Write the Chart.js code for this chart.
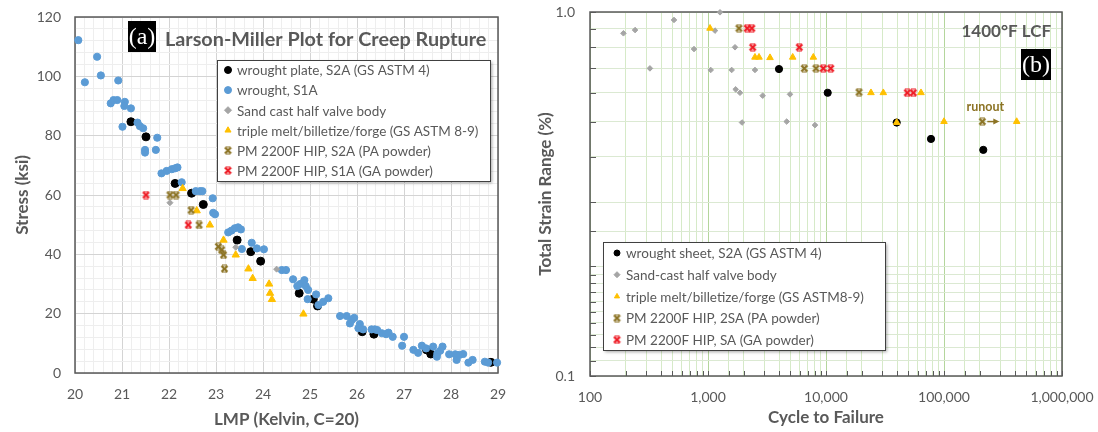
<!DOCTYPE html>
<html>
<head>
<meta charset="utf-8">
<script src="https://cdn.jsdelivr.net/npm/chart.js@4.4.1/dist/chart.umd.min.js"></script>
<style>
  body { margin: 0; background: #fff; width: 1098px; height: 432px; overflow: hidden; position: relative; }
  #wrapA { position: absolute; left: 0; top: 0; width: 520px; height: 432px; }
  #wrapB { position: absolute; left: 520px; top: 0; width: 578px; height: 432px; }
</style>
</head>
<body>
<div id="wrapA"><canvas id="creepChart"></canvas></div>
<div id="wrapB"><canvas id="lcfChart"></canvas></div>
<script>
// ---- (a) Larson-Miller data: LMP (Kelvin, C=20) vs stress (ksi)
const plateLMP    = [21.19, 21.51, 22.13, 22.48, 22.73, 23.45, 23.74, 23.95, 24.77, 25.07, 25.16, 26.11, 26.36, 27.48, 27.57, 28.85];
const plateStress = [84.7, 79.6, 63.9, 60.6, 56.8, 44.8, 40.9, 37.7, 26.9, 24.9, 22.6, 13.9, 13.1, 7.8, 6.4, 3.6];

const wroughtLMP = [20.07, 20.21, 20.47, 20.55, 20.92, 20.76, 20.82, 20.9, 21.06, 21.05, 21.19, 21.01, 21.33, 21.38, 21.45,
  21.75, 21.49, 21.49, 21.72, 21.84, 21.95, 22.06, 22.13, 22.18, 22.27, 22.57, 22.66, 22.71, 22.93, 22.94, 22.98,
  23.26, 23.33, 23.40, 23.47, 23.53, 23.55, 23.76, 23.87, 24.02, 24.40, 24.49, 24.64, 24.73, 24.79, 24.88, 24.91, 24.96,
  24.95, 25.13, 25.18, 25.28, 25.39, 25.64, 25.78, 25.89, 25.94, 25.85, 26.06, 26.03, 26.13, 26.31, 26.38, 26.43, 26.53,
  26.62, 26.67, 26.76, 27.0, 26.96, 27.2, 27.3, 27.38, 27.47, 27.62, 27.71, 27.77, 27.82, 27.70, 27.96, 28.09, 28.12,
  28.18, 28.26, 28.37, 28.46, 28.72, 28.79, 28.98];
const wroughtStress = [112.2, 98.0, 106.6, 100.3, 98.6, 90.9, 92.0, 92.0, 91.4, 90.0, 89.2, 83.0, 84.4, 83.2, 82.5,
  79.3, 75.2, 74.3, 75.2, 67.3, 68.1, 68.7, 69.0, 69.3, 64.3, 61.3, 61.3, 61.3, 58.9, 54.0, 53.5,
  47.4, 48.0, 48.8, 49.1, 48.4, 41.8, 43.9, 42.0, 41.7, 34.7, 34.7, 31.6, 29.3, 30.0, 31.3, 29.3, 28.0,
  24.9, 26.5, 22.9, 24.0, 25.2, 19.2, 19.2, 17.9, 18.6, 16.7, 16.5, 15.1, 14.7, 14.7, 14.7, 14.5, 13.4,
  13.1, 13.6, 12.2, 12.2, 9.2, 7.8, 6.8, 9.2, 8.3, 8.9, 6.6, 7.5, 8.9, 5.5, 6.3, 6.3, 4.4,
  6.1, 6.4, 3.5, 4.4, 3.8, 3.5, 3.5];

const sandLMP    = [22.02, 23.42, 24.29];
const sandStress = [57.4, 42.4, 35.0];

const tripleLMP    = [22.29, 22.59, 22.87, 23.16, 23.42, 23.69, 23.78, 24.13, 24.15, 24.19, 24.86];
const tripleStress = [62.2, 54.7, 49.9, 44.8, 39.8, 35.1, 31.9, 30.0, 26.9, 24.8, 19.9];

const paLMP    = [22.02, 22.15, 22.47, 22.64, 23.05, 23.12, 23.16, 23.18];
const paStress = [60, 60, 54.9, 49.9, 42.6, 41.5, 39.8, 35.1];

const gaLMP    = [21.51, 22.41];
const gaStress = [60, 49.9];

// ---- (b) 1400F LCF data: cycles to failure vs total strain range (%)
const sheetCycles = [3996, 10338, 39720, 77600, 215300];
const sheetStrain = [0.697, 0.600, 0.497, 0.448, 0.418];

const castCycles = [192, 241, 515, 322, 761, 1264, 1146, 1054, 1694, 1587, 2501, 1716, 1867, 2906, 4955, 1942, 4645, 8066];
const castStrain = [0.874, 0.892, 0.951, 0.700, 0.791, 0.998, 0.889, 0.693, 0.800, 0.693, 0.693, 0.613, 0.600, 0.589, 0.594, 0.497, 0.500, 0.489];

const forgeCycles = [1040, 2501, 2706, 3353, 5222, 7811, 24050, 30600, 63840, 39720, 100000, 413000];
const forgeStrain = [0.902, 0.751, 0.751, 0.749, 0.751, 0.751, 0.6, 0.6, 0.6, 0.497, 0.5, 0.5];

const pmPaCycles = [1830, 6549, 8227, 19040, 211200];
const pmPaStrain = [0.902, 0.700, 0.700, 0.602, 0.5];

const pmGaCycles = [2150, 2350, 2392, 5940, 9487, 10960, 48870, 54960];
const pmGaStrain = [0.902, 0.902, 0.800, 0.800, 0.700, 0.700, 0.6, 0.6];

const textGray = '#595959';
Chart.defaults.font.family = 'Lato, "Open Sans", sans-serif';
Chart.defaults.color = textGray;

function zip(xs, ys) {
  return xs.map((x, i) => ({ x: x, y: ys[i] }));
}

// Excel style "x" marker
function xMarker(color) {
  const c = document.createElement('canvas');
  c.width = 9; c.height = 9;
  const g = c.getContext('2d');
  g.strokeStyle = color;
  g.lineWidth = 2.3;
  g.beginPath();
  g.moveTo(1.5, 1.5); g.lineTo(7.5, 7.5);
  g.moveTo(7.5, 1.5); g.lineTo(1.5, 7.5);
  g.stroke();
  g.lineWidth = 1.2;
  g.beginPath();
  g.moveTo(2, 1); g.lineTo(7, 1);
  g.moveTo(2, 8); g.lineTo(7, 8);
  g.stroke();
  return c;
}

const isWhole = v => Math.abs(v - Math.round(v)) < 1e-6;
const isDecade = v => Math.abs(Math.log10(v) - Math.round(Math.log10(v))) < 1e-6;

// plot area is set by layout padding only
function noPad(s) {
  s.paddingTop = 0; s.paddingBottom = 0; s.paddingLeft = 0; s.paddingRight = 0;
}

// box round the plot area, plus optional inside tick marks
const frameBox = {
  id: 'frameBox',
  beforeDatasetsDraw(chart, args, opts) {
    const { ctx, chartArea: a } = chart;
    ctx.save();
    ctx.strokeStyle = opts.color;
    ctx.lineWidth = opts.width;
    ctx.strokeRect(a.left, a.top, a.right - a.left, a.bottom - a.top);
    if (opts.innerTicks) {
      ctx.lineWidth = 1;
      chart.scales.x.ticks.forEach(t => {
        const px = Math.round(chart.scales.x.getPixelForValue(t.value)) + 0.5;
        ctx.beginPath(); ctx.moveTo(px, a.bottom); ctx.lineTo(px, a.bottom - 5); ctx.stroke();
      });
      chart.scales.y.ticks.forEach(t => {
        const py = Math.round(chart.scales.y.getPixelForValue(t.value)) + 0.5;
        ctx.beginPath(); ctx.moveTo(a.left, py); ctx.lineTo(a.left + 6, py); ctx.stroke();
      });
    }
    ctx.restore();
  }
};

// legend drawn as a framed box inside the plot
const boxLegend = {
  id: 'boxLegend',
  afterDatasetsDraw(chart, args, o) {
    const ctx = chart.ctx;
    ctx.save();
    ctx.shadowColor = 'rgba(0,0,0,0.35)';
    ctx.shadowBlur = 3;
    ctx.shadowOffsetX = 2;
    ctx.shadowOffsetY = 2;
    ctx.fillStyle = '#fff';
    ctx.fillRect(o.left, o.top, o.width, o.height);
    ctx.shadowColor = 'transparent';
    ctx.strokeStyle = '#404040';
    ctx.lineWidth = 1;
    ctx.strokeRect(o.left + 0.5, o.top + 0.5, o.width, o.height);
    ctx.font = o.fontSize + 'px Lato, "Open Sans", sans-serif';
    ctx.textBaseline = 'middle';
    chart.data.datasets.forEach((ds, i) => {
      const y = o.top + o.firstRow + i * o.rowStep;
      const mx = o.left + o.markerX;
      if (ds.pointStyle instanceof HTMLCanvasElement) {
        ctx.drawImage(ds.pointStyle, mx - ds.pointStyle.width / 2, y - ds.pointStyle.height / 2);
      } else {
        ctx.fillStyle = ds.backgroundColor;
        ctx.strokeStyle = ds.borderColor;
        Chart.helpers.drawPoint(ctx, { pointStyle: ds.pointStyle, radius: o.markerRadius, borderWidth: 1, rotation: 0 }, mx, y);
      }
      ctx.fillStyle = textGray;
      ctx.fillText(ds.label, o.left + o.textX, y + 1);
    });
    ctx.restore();
  }
};

// panel letter and in-plot title
const panelText = {
  id: 'panelText',
  afterDraw(chart, args, o) {
    const ctx = chart.ctx;
    ctx.save();
    ctx.fillStyle = '#000';
    ctx.fillRect(o.tagLeft, o.tagTop, o.tagWidth, o.tagHeight);
    ctx.fillStyle = '#fff';
    ctx.font = '24px "Liberation Serif", "DejaVu Serif", serif';
    ctx.textAlign = 'center';
    ctx.textBaseline = 'middle';
    ctx.fillText(o.tag, o.tagLeft + o.tagWidth / 2, o.tagTop + o.tagHeight / 2 + 1);
    ctx.fillStyle = textGray;
    ctx.font = 'bold ' + o.titleSize + 'px Lato, "Open Sans", sans-serif';
    ctx.textAlign = o.titleAlign;
    ctx.fillText(o.title, o.titleX, o.titleY);
    ctx.restore();
  }
};

// runout arrow on the last PM (PA powder) point
const runoutNote = {
  id: 'runoutNote',
  afterDatasetsDraw(chart, args, o) {
    const pts = chart.data.datasets[o.datasetIndex].data;
    const p = pts.reduce((a, b) => (b.x > a.x ? b : a));
    const px = chart.scales.x.getPixelForValue(p.x);
    const py = chart.scales.y.getPixelForValue(p.y);
    const ctx = chart.ctx;
    ctx.save();
    ctx.strokeStyle = o.color;
    ctx.fillStyle = o.color;
    ctx.lineWidth = 1.5;
    ctx.beginPath(); ctx.moveTo(px + 5, py); ctx.lineTo(px + 12, py); ctx.stroke();
    ctx.beginPath(); ctx.moveTo(px + 17, py); ctx.lineTo(px + 11, py - 3); ctx.lineTo(px + 11, py + 3); ctx.closePath(); ctx.fill();
    ctx.font = 'bold 12.5px Lato, "Open Sans", sans-serif';
    ctx.textAlign = 'center';
    ctx.textBaseline = 'middle';
    ctx.fillText(o.text, px + 3, py - 15);
    ctx.restore();
  }
};

const blue = '#5b9bd5', black = '#000000', gray = '#a5a5a5', gold = '#ffc000', olive = '#8c7324', red = '#ee1c25';

// ---------------- chart (a)
new Chart(document.getElementById('creepChart'), {
  type: 'scatter',
  data: {
    datasets: [
      { label: 'wrought plate, S2A (GS ASTM 4)', data: zip(plateLMP, plateStress), pointStyle: 'circle', pointRadius: 4, backgroundColor: black, borderColor: black, order: 6 },
      { label: 'wrought, S1A', data: zip(wroughtLMP, wroughtStress), pointStyle: 'circle', pointRadius: 3.6, backgroundColor: blue, borderColor: blue, order: 5 },
      { label: 'Sand cast half valve body', data: zip(sandLMP, sandStress), pointStyle: 'rectRot', pointRadius: 3, backgroundColor: gray, borderColor: gray, order: 4 },
      { label: 'triple melt/billetize/forge (GS ASTM 8-9)', data: zip(tripleLMP, tripleStress), pointStyle: 'triangle', pointRadius: 4.2, backgroundColor: gold, borderColor: gold, order: 3 },
      { label: 'PM 2200F HIP, S2A (PA powder)', data: zip(paLMP, paStress), pointStyle: xMarker(olive), backgroundColor: olive, borderColor: olive, order: 2 },
      { label: 'PM 2200F HIP, S1A (GA powder)', data: zip(gaLMP, gaStress), pointStyle: xMarker(red), backgroundColor: red, borderColor: red, order: 1 }
    ]
  },
  options: {
    responsive: true,
    maintainAspectRatio: false,
    animation: false,
    clip: false,
    layout: { autoPadding: false, padding: { left: 0, right: 22, top: 17, bottom: 0 } },
    plugins: {
      legend: { display: false },
      tooltip: { enabled: false },
      frameBox: { color: '#595959', width: 1.5 },
      boxLegend: { left: 217, top: 60, width: 273, height: 121, firstRow: 10, rowStep: 20.1, markerX: 11, textX: 20, markerRadius: 3.5, fontSize: 13.5 },
      panelText: { tag: '(a)', tagLeft: 128, tagTop: 21, tagWidth: 28, tagHeight: 31,
        title: 'Larson-Miller Plot for Creep Rupture', titleSize: 19.8, titleAlign: 'left', titleX: 165, titleY: 40 }
    },
    scales: {
      x: {
        type: 'linear', min: 20, max: 29,
        border: { display: false },
        grid: { drawTicks: false, color: c => isWhole(c.tick.value) ? '#d4d4d4' : '#eeeeee' },
        ticks: { stepSize: 0.2, autoSkip: false, maxRotation: 0, padding: 13, font: { size: 14 },
          callback: v => isWhole(v) ? String(Math.round(v)) : '' },
        title: { display: true, text: 'LMP (Kelvin, C=20)', font: { size: 17, weight: 'bold' }, padding: { top: 0, bottom: 2 } },
        afterFit: s => { s.height = 59; noPad(s); }
      },
      y: {
        type: 'linear', min: 0, max: 120,
        border: { display: false },
        grid: { drawTicks: false, color: c => c.tick.value % 20 === 0 ? '#d4d4d4' : '#eeeeee' },
        ticks: { stepSize: 4, autoSkip: false, padding: 14, font: { size: 14 },
          callback: v => v % 20 === 0 ? String(v) : '' },
        title: { display: true, text: 'Stress (ksi)', font: { size: 17, weight: 'bold' }, padding: { top: 12, bottom: 0 } },
        afterFit: s => { s.width = 75; noPad(s); }
      }
    }
  },
  plugins: [frameBox, boxLegend, panelText]
});

// ---------------- chart (b)
new Chart(document.getElementById('lcfChart'), {
  type: 'scatter',
  data: {
    datasets: [
      { label: 'wrought sheet, S2A (GS ASTM 4)', data: zip(sheetCycles, sheetStrain), pointStyle: 'circle', pointRadius: 3.6, backgroundColor: black, borderColor: black, order: 5 },
      { label: 'Sand-cast half valve body', data: zip(castCycles, castStrain), pointStyle: 'rectRot', pointRadius: 2.8, backgroundColor: gray, borderColor: gray, order: 4 },
      { label: 'triple melt/billetize/forge (GS ASTM8-9)', data: zip(forgeCycles, forgeStrain), pointStyle: 'triangle', pointRadius: 3.8, backgroundColor: gold, borderColor: gold, order: 3 },
      { label: 'PM 2200F HIP, 2SA (PA powder)', data: zip(pmPaCycles, pmPaStrain), pointStyle: xMarker(olive), backgroundColor: olive, borderColor: olive, order: 2 },
      { label: 'PM 2200F HIP, SA (GA powder)', data: zip(pmGaCycles, pmGaStrain), pointStyle: xMarker(red), backgroundColor: red, borderColor: red, order: 1 }
    ]
  },
  options: {
    responsive: true,
    maintainAspectRatio: false,
    animation: false,
    clip: false,
    layout: { autoPadding: false, padding: { left: 0, right: 36, top: 12, bottom: 0 } },
    plugins: {
      legend: { display: false },
      tooltip: { enabled: false },
      frameBox: { color: '#595959', width: 1.5, innerTicks: true },
      boxLegend: { left: 83, top: 242, width: 282, height: 108, firstRow: 11, rowStep: 21.7, markerX: 14, textX: 23, markerRadius: 3, fontSize: 13.5 },
      panelText: { tag: '(b)', tagLeft: 501, tagTop: 49, tagWidth: 30, tagHeight: 31,
        title: '1400°F LCF', titleSize: 17, titleAlign: 'right', titleX: 531, titleY: 32 },
      runoutNote: { datasetIndex: 3, color: olive, text: 'runout' }
    },
    scales: {
      x: {
        type: 'logarithmic', min: 100, max: 1000000,
        border: { display: false },
        grid: { drawTicks: false, color: c => isDecade(c.tick.value) ? '#b4d69c' : '#d6eac8' },
        ticks: { autoSkip: false, maxRotation: 0, padding: 13, font: { size: 14 },
          callback: v => isDecade(v) ? Math.round(v).toString().replace(/\B(?=(\d{3})+(?!\d))/g, ',') : '' },
        title: { display: true, text: 'Cycle to Failure', font: { size: 17, weight: 'bold' }, padding: { top: 0, bottom: 4 } },
        afterFit: s => { s.height = 56; noPad(s); }
      },
      y: {
        type: 'logarithmic', min: 0.1, max: 1,
        border: { display: false },
        grid: { drawTicks: false, color: '#dbe9d2' },
        ticks: { autoSkip: false, padding: 15, font: { size: 14 },
          callback: v => isDecade(v) ? v.toFixed(1) : '' },
        title: { display: true, text: 'Total Strain Range (%)', font: { size: 17, weight: 'bold' }, padding: { top: 15, bottom: 0 } },
        afterFit: s => { s.width = 70; noPad(s); }
      }
    }
  },
  plugins: [frameBox, boxLegend, panelText, runoutNote]
});
</script>
</body>
</html>
